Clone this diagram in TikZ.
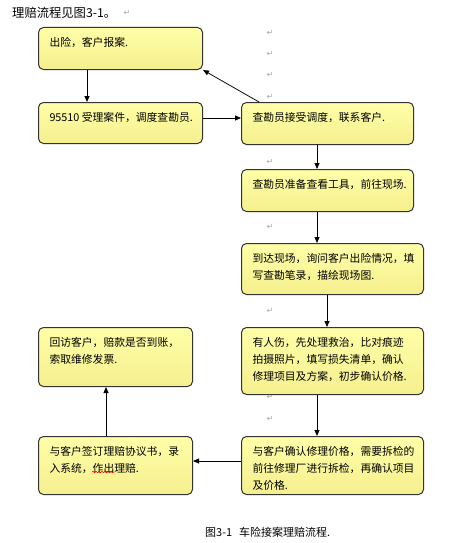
\documentclass[tikz,border=0pt]{standalone}
\usepackage{fontspec}
\setmainfont{Noto Sans CJK SC}
\newfontfamily\symfont{DejaVu Sans}
\usetikzlibrary{arrows.meta,calc,decorations.pathmorphing}
\definecolor{boxtop}{HTML}{FFFFA8}
\definecolor{boxbot}{HTML}{F5EF8E}
\definecolor{boxline}{HTML}{333333}
\newcommand\bxtext[3]{\parbox[c][#2pt][t]{#1pt}{\leftskip=11pt\relax\vspace*{9pt}\rule{0pt}{10pt}#3\par}}
\begin{document}
\begin{tikzpicture}[x=1pt,y=-1pt,
  box/.style={draw=boxline, line width=1pt, rounded corners=5pt, top color=boxtop, bottom color=boxbot, inner sep=0pt, anchor=north west, font=\fontsize{10.8pt}{17pt}\selectfont},
  arr/.style={-{Triangle[length=6pt,width=5pt]}, line width=0.8pt, black},
  pm/.style={font=\symfont\fontsize{8pt}{8pt}\selectfont, text=gray!70, inner sep=0pt}]
\fill[white] (0,0) rectangle (471,543);
\useasboundingbox (0,0) rectangle (471,543);
% title and caption
\node[anchor=west, inner sep=0pt, font=\fontsize{12.3pt}{12.3pt}\selectfont] (title) at (12,13) {理赔流程见图3-1。};
\node[pm] (p0) at (127,13) {↵};
\node[anchor=west, inner sep=0pt, font=\fontsize{11pt}{11pt}\selectfont] (cap) at (205,532) {图3-1\hspace{7pt}车险接案理赔流程.};
% paragraph marks
\node[pm] (p1) at (270,33) {↵};
\node[pm] (p2) at (270,54) {↵};
\node[pm] (p3) at (270,75) {↵};
\node[pm] (p4) at (270,97) {↵};
\node[pm] (p5) at (270,162) {↵};
\node[pm] (p6) at (270,227) {↵};
\node[pm] (p7) at (270,311) {↵};
\node[pm] (p8) at (270,397) {↵};
\node[pm] (p9) at (270,419) {↵};
% boxes
\node[box] (b1) at (38,27) {\bxtext{164}{42}{出险，客户报案.}};
\node[box] (b2) at (38,102) {\bxtext{164}{41}{95510 受理案件，调度查勘员.}};
\node[box] (b3) at (241,102) {\bxtext{172}{42}{查勘员接受调度，联系客户.}};
\node[box] (b4) at (241,169) {\bxtext{172}{42}{查勘员准备查看工具，前往现场.}};
\node[box] (b5) at (241,243) {\bxtext{182}{51}{到达现场，询问客户出险情况，填\\写查勘笔录，描绘现场图.}};
\node[box] (b6) at (241,327) {\bxtext{182}{67}{有人伤，先处理救治，比对痕迹\\拍摄照片，填写损失清单，确认\\修理项目及方案，初步确认价格.}};
\node[box] (b7) at (241,436) {\bxtext{182}{58}{与客户确认修理价格，需要拆检的\\前往修理厂进行拆检，再确认项目\\及价格.}};
\node[box] (b8) at (38,436) {\bxtext{154}{58}{与客户签订理赔协议书，录\\入系统，作出理赔.}};
\node[box] (b9) at (38,327) {\bxtext{154}{59}{回访客户，赔款是否到账，\\索取维修发票.}};
% spell-check underline
\draw[red, line width=0.5pt, decorate, decoration={snake, amplitude=0.8pt, segment length=3pt}]
  ([shift={(54pt,-36pt)}]b8.north west) -- ([shift={(76pt,-36pt)}]b8.north west);
% connectors
\draw[arr] ([xshift=49pt]b1.south west) -- ([xshift=49pt]b2.north west);
\draw[arr] ([yshift=-16pt]b2.north east) -- ([yshift=-16pt]b3.north west);
\draw[arr] ([xshift=18pt]b3.north west) -- (b1.south east);
\draw[arr] ([xshift=76pt]b3.south west) -- ([xshift=76pt]b4.north west);
\draw[arr] ([xshift=76pt]b4.south west) -- ([xshift=76pt]b5.north west);
\draw[arr] ([xshift=86pt]b5.south west) -- ([xshift=86pt]b6.north west);
\draw[arr] ([xshift=76pt]b6.south west) -- ([xshift=76pt]b7.north west);
\draw[arr] ([yshift=-25pt]b7.north west) -- ([yshift=-25pt]b8.north east);
\draw[arr] ([xshift=68pt]b8.north west) -- ([xshift=68pt]b9.south west);
\end{tikzpicture}
\end{document}
